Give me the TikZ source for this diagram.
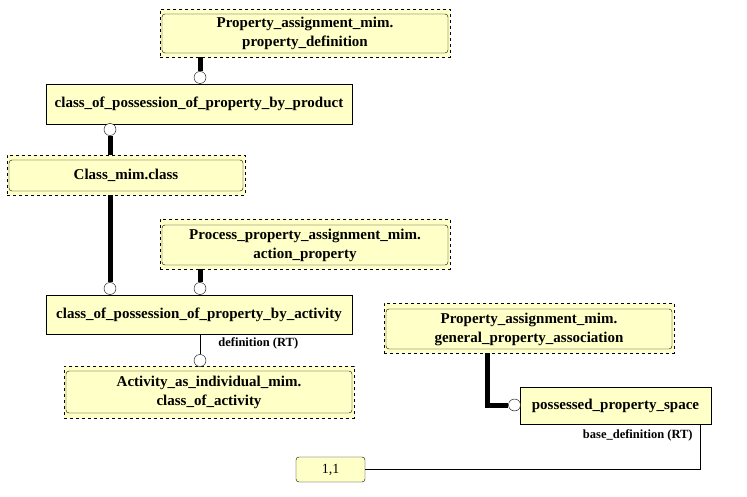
\documentclass[tikz,border=0pt]{standalone}
\usepackage{fontspec}
\setmainfont{Liberation Serif}
\usepackage{tikz}
\usetikzlibrary{shapes}
\definecolor{boxyellow}{RGB}{255,255,200}

\begin{document}
\begin{tikzpicture}[x=1pt,y=-1pt,
  ent/.style={draw, fill=boxyellow, inner sep=0pt, font=\fontsize{15}{19}\selectfont\bfseries, align=center},
  ext/.style={draw, dashed, fill=boxyellow, inner sep=0pt},
  extin/.style={draw, fill=boxyellow, rounded corners=3pt, inner sep=0pt, font=\fontsize{15}{19}\selectfont\bfseries, align=center},
  ring/.style={draw, circle, fill=white, inner sep=0pt, minimum size=12pt},
  bond/.style={line width=5pt},
  link/.style={line width=0.8pt},
  role/.style={font=\fontsize{12.5}{14}\selectfont\bfseries, inner sep=1pt}]
\useasboundingbox (0,0) rectangle (747,497);

% extended entities
\node[ext, minimum width=290pt, minimum height=48pt] (pdx) at (305,33) {};
\node[extin, minimum width=286pt, minimum height=39pt] (pd) at (305,33.5) {Property\_assignment\_mim.\\property\_definition};
\node[ext, minimum width=238pt, minimum height=40pt] (clsx) at (126,175) {};
\node[extin, minimum width=234pt, minimum height=31pt] (cls) at (126,175.5) {Class\_mim.class};
\node[ext, minimum width=290pt, minimum height=50pt] (procx) at (305,244) {};
\node[extin, minimum width=286pt, minimum height=40pt] (proc) at (305,245) {Process\_property\_assignment\_mim.\\action\_property};
\node[ext, minimum width=290pt, minimum height=52pt] (actx) at (209,392) {};
\node[extin, minimum width=286pt, minimum height=42pt] (act) at (209,392) {Activity\_as\_individual\_mim.\\class\_of\_activity};
\node[ext, minimum width=290pt, minimum height=50pt] (gpax) at (529,328) {};
\node[extin, minimum width=286pt, minimum height=40pt] (gpa) at (529,329) {Property\_assignment\_mim.\\general\_property\_association};

% entities
\node[ent, minimum width=306pt, minimum height=40pt] (byprod) at (199,104) {class\_of\_possession\_of\_property\_by\_product};
\node[ent, minimum width=306pt, minimum height=39pt] (byact) at (199,314.5) {class\_of\_possession\_of\_property\_by\_activity};
\node[ent, minimum width=191pt, minimum height=37pt] (pps) at (615.5,405.5) {possessed\_property\_space};
\node[draw, fill=boxyellow, rounded corners=3pt, minimum width=69pt, minimum height=25pt, font=\fontsize{14}{16}\selectfont] (card) at (330.5,469.5) {1,1};

% rings
\node[ring] (r1) at (200,77.5) {};
\node[ring] (r2) at (110,129.5) {};
\node[ring] (r3) at (110,288.5) {};
\node[ring] (r4) at (200,288.5) {};
\node[ring] (r5) at (200,360.5) {};
\node[ring] (r6) at (514.5,405) {};

% relationships
\draw[bond] (r1 |- pdx.south) -- (r1.north);
\draw[bond] (r2.south) -- (r2 |- clsx.north);
\draw[bond] (r3 |- clsx.south) -- (r3.north);
\draw[bond] (r4 |- procx.south) -- (r4.north);
\draw[link] (r5 |- byact.south) -- (r5.north) node[role, pos=0.5, anchor=west, xshift=17pt, yshift=1pt] {definition (RT)};
\draw[bond] ([xshift=-42pt]gpax.south) |- (r6.west);
\draw[link] ([xshift=84.5pt]pps.south) node[role, anchor=north east, xshift=-6pt, yshift=-4pt] {base\_definition (RT)} |- (card.east);
\end{tikzpicture}
\end{document}
